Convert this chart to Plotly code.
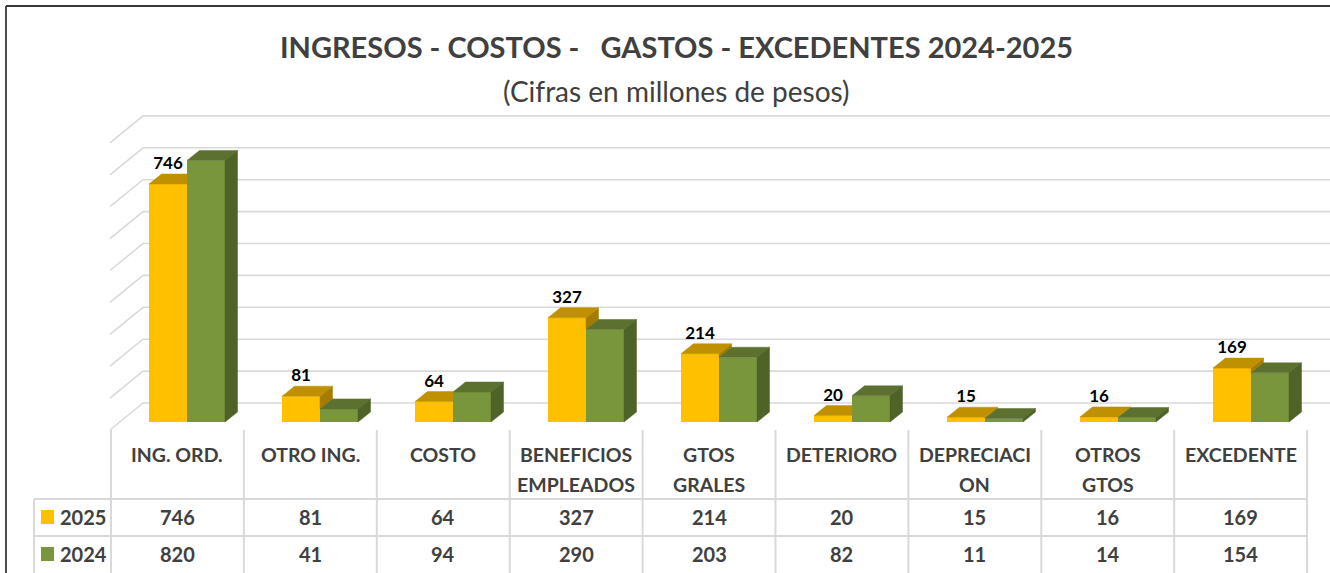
import plotly.graph_objects as go

categories = ["ING. ORD.", "OTRO ING.", "COSTO", "BENEFICIOS<br>EMPLEADOS", "GTOS<br>GRALES",
              "DETERIORO", "DEPRECIACI<br>ON", "OTROS<br>GTOS", "EXCEDENTE"]
values_2025 = [746, 81, 64, 327, 214, 20, 15, 16, 169]
values_2024 = [820, 41, 94, 290, 203, 82, 11, 14, 154]
series_names = ["2025", "2024"]
grid_ticks = [0, 100, 200, 300, 400, 500, 600, 700, 800, 900]

W, H = 1330, 573
X0, STEP = 187.0, 133.0      # pixel of the first category centre, pixels per category
Y0, SCALE = 422.0, 0.319     # pixel of value 0, pixels per unit
BAR_W = 38 / STEP
DX, DY = 12.5 / STEP, 10 / SCALE   # bar depth in axis units

YELLOW, YELLOW_TOP, YELLOW_SIDE = "#FFC000", "#BF9000", "#A67C00"
GREEN, GREEN_TOP, GREEN_SIDE = "#7A963C", "#5C7030", "#4F6228"
GRID = "#D9D9D9"
TEXT = "#404040"
FONT = "Lato"

def ax(px):
    return (px - X0) / STEP

fig = go.Figure()
shapes = []

# wall and floor gridlines, under the bars
for t in grid_ticks:
    back = t + (Y0 - 403) / SCALE
    front = t - (430 - Y0) / SCALE
    shapes.append(dict(type="path", xref="x", yref="y", layer="below",
                       path=f"M {ax(110)} {front} L {ax(143)} {back} L {ax(1340)} {back}",
                       line=dict(color=GRID, width=1.6)))

# bar fronts
idx = list(range(len(categories)))
fig.add_trace(go.Bar(x=idx, y=values_2025, width=BAR_W, offset=-BAR_W, name=series_names[0],
                     marker=dict(color=YELLOW, line=dict(width=0))))
fig.add_trace(go.Bar(x=idx, y=values_2024, width=BAR_W, offset=0, name=series_names[1],
                     marker=dict(color=GREEN, line=dict(width=0))))

def poly(xs, ys, color):
    fig.add_trace(go.Scatter(x=xs + xs[:1], y=ys + ys[:1], mode="lines", fill="toself",
                             fillcolor=color, line=dict(color=color, width=0.5),
                             hoverinfo="skip", showlegend=False))

# bar tops and sides
for i, (a, b) in enumerate(zip(values_2025, values_2024)):
    left = i - BAR_W
    if a >= b:
        poly([i, i + DX, i + DX, i], [b, b + DY, a + DY, a], YELLOW_SIDE)
        poly([left, left + DX, i + DX, i], [a, a + DY, a + DY, a], YELLOW_TOP)
    else:
        poly([left, left + DX, i, i], [a, a + DY, a + DY, a], YELLOW_TOP)
    r = i + BAR_W
    poly([i, i + DX, r + DX, r], [b, b + DY, b + DY, b], GREEN_TOP)
    poly([r, r + DX, r + DX, r], [0, DY, b + DY, b], GREEN_SIDE)

# data labels on the 2025 series
fig.add_trace(go.Scatter(x=[i - BAR_W / 2 for i in idx], y=[v + DY + 1.5 for v in values_2025],
                         mode="text", text=[str(v) for v in values_2025],
                         textposition="top center",
                         textfont=dict(family=FONT, size=17, color="#000000", weight="bold"),
                         hoverinfo="skip", showlegend=False))

def pxx(p):
    return p / W

def pxy(p):
    return 1 - p / H

def line(x0, y0, x1, y1, color=GRID, width=2):
    shapes.append(dict(type="line", xref="paper", yref="paper", x0=pxx(x0), y0=pxy(y0),
                       x1=pxx(x1), y1=pxy(y1), line=dict(color=color, width=width)))

# outer frame
line(6, 6, 1330, 6, "#383838", 1.8)
line(6, 6, 6, 573, "#383838", 1.8)

# table rules
COL0, COLW = 111.0, 132.9
for c in range(len(categories) + 1):
    line(COL0 + c * COLW, 430, COL0 + c * COLW, 573)
line(34, 499, 34, 573)
for yy in (499, 536):
    line(34, yy, COL0 + len(categories) * COLW, yy)

annotations = []
def text(x, y, s, size=20, anchor="center", color=TEXT, bold=True, family=FONT):
    annotations.append(dict(xref="paper", yref="paper", x=pxx(x), y=pxy(y), text=s, showarrow=False,
                            xanchor=anchor, yanchor="middle", align="center",
                            font=dict(family=family, size=size, color=color,
                                      weight="bold" if bold else "normal")))

text(676.5, 91, "(Cifras en millones de pesos)", size=28, bold=False)

ROW_Y = [517, 554]
for c, cat in enumerate(categories):
    cx = COL0 + (c + 0.5) * COLW
    for k, part in enumerate(cat.split("<br>")):
        text(cx, 454 + 30 * k, part, size=19.5)
    text(cx, ROW_Y[0], str(values_2025[c]), size=20)
    text(cx, ROW_Y[1], str(values_2024[c]), size=20)

for yy, name, col in zip(ROW_Y, series_names, (YELLOW, GREEN)):
    shapes.append(dict(type="rect", xref="paper", yref="paper", x0=pxx(41), x1=pxx(54),
                       y0=pxy(yy - 7), y1=pxy(yy + 7), fillcolor=col, line=dict(width=0)))
    text(57.5, yy, name, size=20, anchor="left")

fig.update_layout(
    width=W, height=H, margin=dict(l=0, r=0, t=0, b=0, pad=0, autoexpand=False),
    paper_bgcolor="#FFFFFF", plot_bgcolor="#FFFFFF", showlegend=False, barmode="overlay",
    title=dict(text="INGRESOS - COSTOS -\u00a0\u00a0 GASTOS - EXCEDENTES 2024-2025",
               x=676.5 / W, y=1 - 48 / H, xanchor="center", yanchor="middle", xref="paper", yref="paper",
               font=dict(family=FONT, size=29, color=TEXT, weight="bold")),
    xaxis=dict(visible=False, range=[ax(0), ax(W)], fixedrange=True),
    yaxis=dict(visible=False, range=[(Y0 - H) / SCALE, Y0 / SCALE], fixedrange=True),
    shapes=shapes, annotations=annotations,
)

fig.write_html("out.html", config={"displayModeBar": False},
               post_script="document.body.style.margin='0';document.documentElement.style.overflow='hidden';")
